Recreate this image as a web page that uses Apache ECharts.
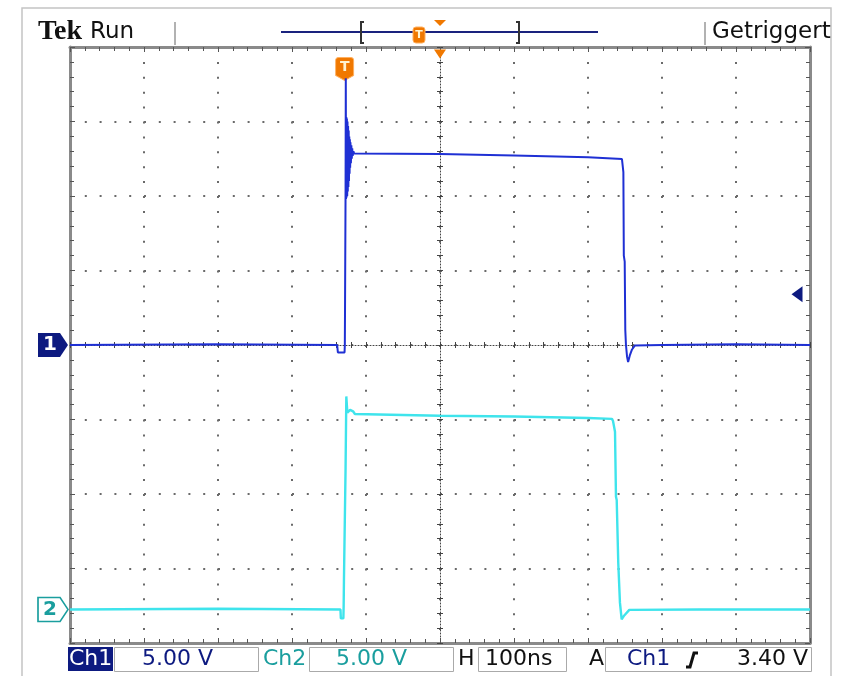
<!DOCTYPE html>
<html><head><meta charset="utf-8">
<script src="https://cdn.jsdelivr.net/npm/echarts@6/dist/echarts.min.js"></script>
<style>html,body{margin:0;padding:0;background:#fff;}#c{width:857px;height:676px;}</style>
</head><body><div id="c"></div>
<script>
// ---- scope settings ----
const voltsPerDiv = 5;          // Ch1 and Ch2
const nsPerDiv = 100;           // H 100ns
const ch1GroundDiv = 0;         // ground marker "1" position (divisions)
const ch2GroundDiv = -3.55;     // ground marker "2" position (divisions)
const triggerLevel = 3.40;      // V on Ch1
const triggerTime = -127.5;     // ns, T marker
const xTicks = [-500,-400,-300,-200,-100,0,100,200,300,400,500];
const yTicks = [-4,-3,-2,-1,0,1,2,3,4];

// ---- Ch1 trace (time ns, volts) ----
const ch1T = [-500,-300,-139,-138,-129,-128.6,-128.4,-128.0,-127.6,-127.3,-127.0,-126.6,-126.2,-125.8,-125.4,-125.0,-124.6,-124.2,-123.8,-123.4,-123.0,-122.6,-122.2,-121.8,-121.4,-121.0,-120.4,-119.8,-119.2,-118.6,-118.0,-117.0,-116.0,-114,0,100,200,245.9,247.8,248.4,249.6,250.4,251.3,252.8,254.2,256.5,259.5,263.5,300,400,500];
const ch1V = [0,0.05,0,-0.5,-0.5,0,1.9,2.0,10.5,17.9,9.8,15.3,9.9,15.2,10.0,15.0,10.3,14.7,10.6,14.4,11.0,14.0,11.5,13.8,11.9,13.6,12.2,13.4,12.5,13.2,12.7,13.0,12.85,12.9,12.82,12.72,12.6,12.48,11.6,6.0,5.6,1.0,0,-0.8,-1.14,-0.7,-0.3,-0.03,0,0.05,0];

// ---- Ch2 trace (time ns, volts) ----
const ch2T = [-500,-300,-134.5,-134,-130.6,-130.2,-129.8,-128.2,-127.6,-126.6,-125.2,-123.5,-121.5,-119.7,-117.5,-115,-50,0,100,200,232.4,233.8,236.5,237.8,238.8,240.9,243.2,245.5,249,255.8,350,500];
const ch2V = [0,0.05,0,-0.6,-0.6,0.2,1.95,2.0,9.5,14.3,13.2,13.3,13.4,13.5,13.3,13.12,13.05,13.0,12.95,12.85,12.79,12.65,11.93,7.57,7.35,3.12,0.44,-0.66,-0.4,-0.03,0,0];

// ---- readout texts ----
const topTexts = ['Tek', 'Run', 'Getriggert'];
const bottomTexts = ['Ch1', '5.00 V', 'Ch2', '5.00 V', 'H', '100ns', 'A', 'Ch1', '3.40 V'];

const C1 = '#1f30d4', C2 = '#3fe4ec', NAVY = '#0d1a80', TEAL = '#1a9e9e', ORANGE = '#f07800';
const FONT = 'DejaVu Sans';

const ch1Data = ch1T.map((t, i) => [t, ch1V[i] / voltsPerDiv + ch1GroundDiv]);
const ch2Data = ch2T.map((t, i) => [t, ch2V[i] / voltsPerDiv + ch2GroundDiv]);

const G = {left: 70, top: 47, width: 740, height: 596};
const xMin = xTicks[0], xMax = xTicks[xTicks.length - 1];
const yMin = yTicks[0], yMax = yTicks[yTicks.length - 1];

function xAx(gridIndex, pos, opts) {
  return Object.assign({
    gridIndex, type: 'value', min: xMin, max: xMax, interval: nsPerDiv, position: pos,
    axisLabel: {show: false}, splitLine: {show: false}
  }, opts);
}
function yAx(gridIndex, pos, opts) {
  return Object.assign({
    gridIndex, type: 'value', min: yMin, max: yMax, interval: 1, position: pos,
    axisLabel: {show: false}, splitLine: {show: false}
  }, opts);
}
const border = {onZero: false, lineStyle: {color: '#8a8a8a', width: 3}};
const borderTick = {show: true, inside: true, length: 5, lineStyle: {color: '#555', width: 1}};
const borderMinor = {show: true, splitNumber: 5, length: 4, lineStyle: {color: '#555', width: 1}};
const centerLine = {show: true, onZero: true, lineStyle: {color: '#444', width: 1, type: [1, 2]}};
const tIn = {show: true, inside: true, length: 3, lineStyle: {color: '#444', width: 1}};
const tOut = {show: true, inside: false, length: 3, lineStyle: {color: '#444', width: 1}};
const mTick = {show: true, splitNumber: 5, length: 3, lineStyle: {color: '#444', width: 1}};

const markerPath = 'path://M0,0 L22,0 L30,12 L22,24 L0,24 Z';
const tPath = 'path://M3,0 L15,0 Q18,0 18,3 L18,18 L9,23 L0,18 L0,3 Q0,0 3,0 Z';

const option = {
  animation: false,
  backgroundColor: '#ffffff',
  grid: [G, G, G],
  xAxis: [
    xAx(0, 'bottom', {axisLine: border, axisTick: borderTick, minorTick: borderMinor,
      splitLine: {show: true, lineStyle: {color: '#6a6a6a', width: 2, type: [2, 12.9]}}}),
    xAx(0, 'top', {axisLine: border, axisTick: borderTick, minorTick: borderMinor}),
    xAx(1, 'bottom', {axisLine: centerLine, axisTick: tIn, minorTick: mTick}),
    xAx(2, 'bottom', {axisLine: {show: false, onZero: true}, axisTick: tOut, minorTick: mTick})
  ],
  yAxis: [
    yAx(0, 'left', {axisLine: border, axisTick: borderTick, minorTick: borderMinor,
      splitLine: {show: true, lineStyle: {color: '#6a6a6a', width: 2, type: [2, 12.8]}}}),
    yAx(0, 'right', {axisLine: border, axisTick: borderTick, minorTick: borderMinor}),
    yAx(1, 'left', {axisLine: centerLine, axisTick: tIn, minorTick: mTick}),
    yAx(2, 'left', {axisLine: {show: false, onZero: true}, axisTick: tOut, minorTick: mTick})
  ],
  series: [
    {
      name: 'Ch2', type: 'line', xAxisIndex: 0, yAxisIndex: 0, data: ch2Data,
      showSymbol: false, lineStyle: {color: C2, width: 2.4}, z: 5,
      markPoint: {
        silent: true,
        data: [{
          coord: [xMin, ch2GroundDiv], symbol: markerPath, symbolSize: [30, 24], symbolOffset: [-17, 0],
          itemStyle: {color: '#fff', borderColor: TEAL, borderWidth: 1.5},
          label: {show: true, position: 'inside', formatter: '2', color: TEAL, fontWeight: 'bold',
            fontSize: 20, fontFamily: FONT, offset: [-3, 0]}
        }]
      }
    },
    {
      name: 'Ch1', type: 'line', xAxisIndex: 0, yAxisIndex: 0, data: ch1Data,
      showSymbol: false, lineStyle: {color: C1, width: 2}, z: 6,
      markPoint: {
        silent: true,
        data: [
          {
            coord: [xMin, ch1GroundDiv], symbol: markerPath, symbolSize: [30, 24], symbolOffset: [-17, 0],
            itemStyle: {color: NAVY},
            label: {show: true, position: 'inside', formatter: '1', color: '#fff', fontWeight: 'bold',
              fontSize: 20, fontFamily: FONT, offset: [-3, 0]}
          },
          {
            coord: [triggerTime, yMax], symbol: tPath, symbolSize: [18, 23], symbolOffset: [-1, 22],
            itemStyle: {color: ORANGE, borderColor: '#ffb060', borderWidth: 1},
            label: {show: true, position: 'inside', formatter: 'T', color: '#fff3d0', fontWeight: 'bold',
              fontSize: 14, fontFamily: FONT, offset: [0, -2]}
          },
          {
            coord: [0, yMax], symbol: 'triangle', symbolRotate: 180, symbolSize: [12, 9], symbolOffset: [0, 7],
            itemStyle: {color: ORANGE}, label: {show: false}
          },
          {
            coord: [xMax, triggerLevel / voltsPerDiv + ch1GroundDiv], symbol: 'triangle', symbolRotate: 90,
            symbolSize: [16, 11], symbolOffset: [-13, 0],
            itemStyle: {color: NAVY}, label: {show: false}
          }
        ]
      }
    }
  ],
  graphic: [
    // outer frame
    {type: 'polyline', shape: {points: [[22, 676], [22, 8], [831, 8], [831, 676]]}, style: {stroke: '#c4c4c4', lineWidth: 1.5, fill: null}},
    // top bar
    {type: 'text', style: {text: topTexts[0], x: 38, y: 32, font: 'bold 28px "Liberation Serif"', fill: '#111', textVerticalAlign: 'middle', verticalAlign: 'middle'}},
    {type: 'text', style: {text: topTexts[1], x: 90, y: 32, font: '23px "DejaVu Sans"', fill: '#111', textVerticalAlign: 'middle', verticalAlign: 'middle'}},
    {type: 'line', shape: {x1: 175, y1: 22, x2: 175, y2: 45}, style: {stroke: '#999', lineWidth: 1.5}},
    {type: 'line', shape: {x1: 281, y1: 32, x2: 598, y2: 32}, style: {stroke: '#1a237e', lineWidth: 2}},
    {type: 'polyline', shape: {points: [[364, 22], [361, 22], [361, 43], [364, 43]]}, style: {stroke: '#333', lineWidth: 2, fill: null}},
    {type: 'polyline', shape: {points: [[516, 22], [519, 22], [519, 43], [516, 43]]}, style: {stroke: '#333', lineWidth: 2, fill: null}},
    {type: 'rect', shape: {x: 413, y: 27, width: 12, height: 16, r: 3}, style: {fill: ORANGE, stroke: '#ffb060', lineWidth: 1}},
    {type: 'text', style: {text: 'T', x: 419, y: 35, font: 'bold 11px "DejaVu Sans"', fill: '#fff3d0', textAlign: 'center', align: 'center', textVerticalAlign: 'middle', verticalAlign: 'middle'}},
    {type: 'polygon', shape: {points: [[434, 20], [446, 20], [440, 26]]}, style: {fill: ORANGE}},
    {type: 'line', shape: {x1: 705, y1: 22, x2: 705, y2: 45}, style: {stroke: '#999', lineWidth: 1.5}},
    {type: 'text', style: {text: topTexts[2], x: 712, y: 32, font: '23px "DejaVu Sans"', fill: '#111', textVerticalAlign: 'middle', verticalAlign: 'middle'}},
    // bottom bar
    {type: 'rect', shape: {x: 68, y: 647, width: 45, height: 24}, style: {fill: NAVY}},
    {type: 'text', style: {text: bottomTexts[0], x: 69, y: 659, font: '22px "DejaVu Sans"', fill: '#fff', textVerticalAlign: 'middle', verticalAlign: 'middle'}},
    {type: 'rect', shape: {x: 114.5, y: 647.5, width: 144, height: 24}, style: {fill: '#fff', stroke: '#aaa', lineWidth: 1}},
    {type: 'text', style: {text: bottomTexts[1], x: 142, y: 659, font: '22px "DejaVu Sans"', fill: NAVY, textVerticalAlign: 'middle', verticalAlign: 'middle'}},
    {type: 'text', style: {text: bottomTexts[2], x: 263, y: 659, font: '22px "DejaVu Sans"', fill: TEAL, textVerticalAlign: 'middle', verticalAlign: 'middle'}},
    {type: 'rect', shape: {x: 309.5, y: 647.5, width: 144, height: 24}, style: {fill: '#fff', stroke: '#aaa', lineWidth: 1}},
    {type: 'text', style: {text: bottomTexts[3], x: 336, y: 659, font: '22px "DejaVu Sans"', fill: TEAL, textVerticalAlign: 'middle', verticalAlign: 'middle'}},
    {type: 'text', style: {text: bottomTexts[4], x: 458, y: 659, font: '22px "DejaVu Sans"', fill: '#111', textVerticalAlign: 'middle', verticalAlign: 'middle'}},
    {type: 'rect', shape: {x: 478.5, y: 647.5, width: 88, height: 24}, style: {fill: '#fff', stroke: '#aaa', lineWidth: 1}},
    {type: 'text', style: {text: bottomTexts[5], x: 485, y: 659, font: '22px "DejaVu Sans"', fill: '#111', textVerticalAlign: 'middle', verticalAlign: 'middle'}},
    {type: 'text', style: {text: bottomTexts[6], x: 589, y: 659, font: '22px "DejaVu Sans"', fill: '#111', textVerticalAlign: 'middle', verticalAlign: 'middle'}},
    {type: 'rect', shape: {x: 605.5, y: 647.5, width: 206, height: 24}, style: {fill: '#fff', stroke: '#aaa', lineWidth: 1}},
    {type: 'text', style: {text: bottomTexts[7], x: 627, y: 659, font: '22px "DejaVu Sans"', fill: NAVY, textVerticalAlign: 'middle', verticalAlign: 'middle'}},
    {type: 'polyline', shape: {points: [[686, 667], [690, 667], [694, 653], [698, 653]]}, style: {stroke: '#111', lineWidth: 3, fill: null}},
    {type: 'text', style: {text: bottomTexts[8], x: 737, y: 659, font: '22px "DejaVu Sans"', fill: '#111', textVerticalAlign: 'middle', verticalAlign: 'middle'}}
  ]
};

const chart = echarts.init(document.getElementById('c'), null, {renderer: 'canvas'});
chart.setOption(option);
</script>
</body></html>
